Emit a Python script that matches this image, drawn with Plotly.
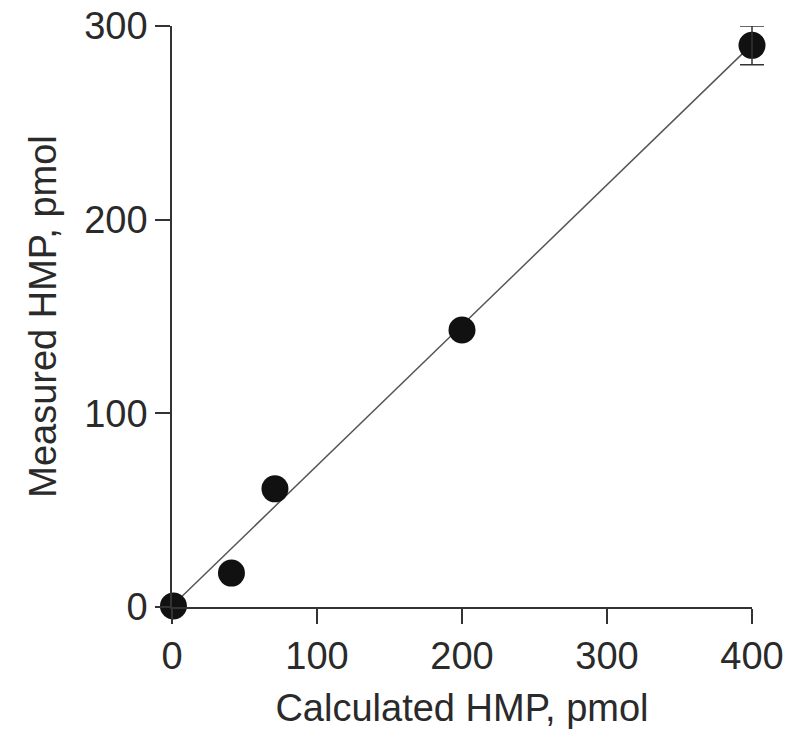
import plotly.graph_objects as go

# data
calc_hmp = [1, 41, 71, 200, 400]
meas_hmp = [0.5, 17.5, 61, 143, 290]
meas_err = [0, 0, 0, 0, 10]

fit_x = [0, 400]
fit_y = [0.5, 290.5]

x_ticks = [0, 100, 200, 300, 400]
y_ticks = [0, 100, 200, 300]

X_MAX = 400
font = dict(family="Liberation Sans, Arial, sans-serif", color="#2a2a2a", size=38)

# plot area geometry (px)
LEFT, RIGHT, AXIS_LEN = 172, 18, 580
dom = AXIS_LEN / (800 - LEFT - RIGHT)

fig = go.Figure()

# error bars live on a hidden, wider x-axis so the cap at x=400 isn't clipped
err_idx = [i for i, e in enumerate(meas_err) if e > 0]
fig.add_trace(go.Scatter(
    x=[calc_hmp[i] for i in err_idx], y=[meas_hmp[i] for i in err_idx],
    mode="markers", marker=dict(size=1, color="rgba(0,0,0,0)"),
    error_y=dict(type="data", array=[meas_err[i] for i in err_idx],
                 color="#333333", thickness=1.5, width=12),
    xaxis="x2", yaxis="y", showlegend=False, hoverinfo="skip",
))

fig.add_trace(go.Scatter(
    x=fit_x, y=fit_y, mode="lines",
    line=dict(color="#555555", width=1.5),
    cliponaxis=False, showlegend=False,
))

fig.add_trace(go.Scatter(
    x=calc_hmp, y=meas_hmp, mode="markers",
    marker=dict(color="#111111", size=27),
    cliponaxis=False, showlegend=False,
))

axis_common = dict(
    showgrid=False, zeroline=False, showline=True,
    linecolor="#333333", linewidth=1.5,
    ticks="outside", ticklen=15, tickwidth=1.5, tickcolor="#333333",
    tickfont=font, automargin=False, ticklabeloverflow="allow",
)

fig.update_layout(
    xaxis=dict(
        domain=[0, dom], range=[0, X_MAX], tickvals=x_ticks,
        title=dict(text="Calculated HMP, pmol", font=font, standoff=18),
        **axis_common,
    ),
    xaxis2=dict(domain=[0, 1], range=[0, X_MAX / dom], visible=False, anchor="y"),
    yaxis=dict(
        range=[0, 300], tickvals=y_ticks,
        title=dict(text="Measured HMP, pmol", font=font, standoff=16),
        **axis_common,
    ),
    width=800, height=748,
    margin=dict(l=LEFT, r=RIGHT, t=26, b=141),
    # transparent plot bg so the overlapping x2 subplot doesn't hide the main one
    plot_bgcolor="rgba(0,0,0,0)", paper_bgcolor="white",
)

# drop the default body margin so the figure fills the window exactly
fig.write_html(
    "out.html",
    config={"displayModeBar": False},
    post_script="document.body.style.margin = '0';",
)
